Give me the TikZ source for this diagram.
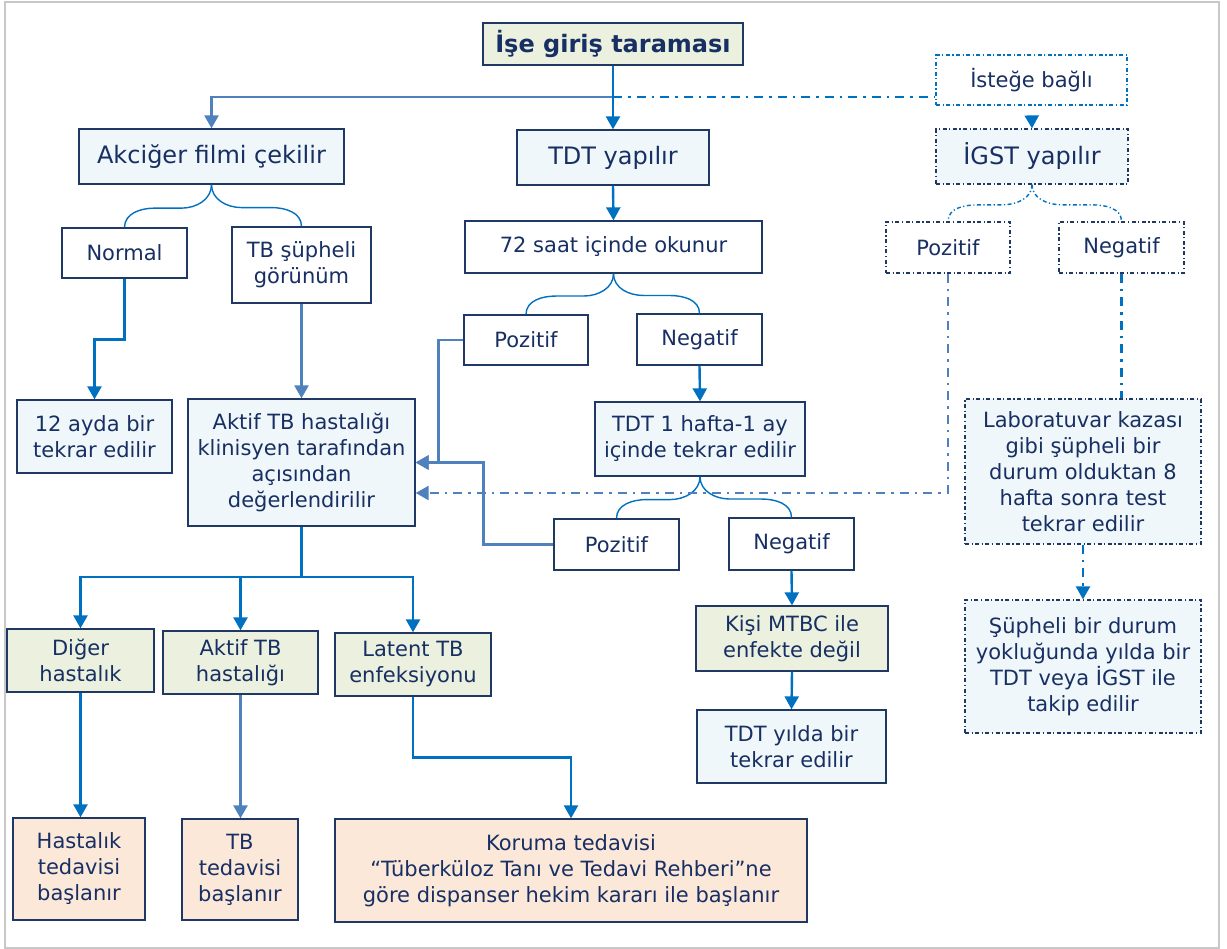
\documentclass[tikz,border=0pt]{standalone}
\usepackage{fontspec}
\setmainfont{DejaVu Sans}
\usetikzlibrary{arrows.meta,calc}

\definecolor{txt}{HTML}{172F63}
\definecolor{bordc}{HTML}{1F3864}
\definecolor{mainb}{HTML}{0070C0}
\definecolor{steel}{HTML}{4F81BD}
\definecolor{fillg}{HTML}{EBF1DE}
\definecolor{fillb}{HTML}{F0F7FA}
\definecolor{fillp}{HTML}{FCE8D9}
\definecolor{frameg}{HTML}{C8C8C8}

\tikzset{
  lbl/.style={font=\fontsize{21pt}{26pt}\selectfont, text=txt, align=center, inner sep=0pt},
  big/.style={font=\fontsize{24pt}{28pt}\selectfont},
  box/.style={lbl, draw=bordc, line width=1.3pt, fill=white},
  grn/.style={box, fill=fillg},
  blu/.style={box, fill=fillb},
  pch/.style={box, fill=fillp},
  dbox/.style={dash pattern=on 4pt off 2.5pt on 1.2pt off 2.5pt, line width=1.2pt},
  sz/.style 2 args={minimum width=#1pt, minimum height=#2pt},
  ln/.style={draw=mainb, line width=2.4pt},
  arr/.style={ln, -{Triangle[width=14pt,length=13pt]}},
  arrs/.style={arr, draw=steel},
  dd/.style={dash pattern=on 9pt off 6pt on 2.5pt off 6pt},
  brace/.style={draw=mainb, line width=1.4pt},
  dbrace/.style={brace, dash pattern=on 4pt off 2.5pt on 1.2pt off 2.5pt},
}

% curly split from a parent box to a child on its left / right
\newcommand\bracel[3]{%
  \draw[#1] let \p1=(#2.south), \p2=(#3.north) in
    (\p1) to[out=-90,in=0] ({\x1-30pt},{\y1-0.55*(\y1-\y2)})
    -- ({\x2+30pt},{\y1-0.55*(\y1-\y2)})
    to[out=180,in=90] (\p2);}
\newcommand\bracer[3]{%
  \draw[#1] let \p1=(#2.south), \p2=(#3.north) in
    (\p1) to[out=-90,in=180] ({\x1+30pt},{\y1-0.55*(\y1-\y2)})
    -- ({\x2-30pt},{\y1-0.55*(\y1-\y2)})
    to[out=0,in=90] (\p2);}

\begin{document}
\begin{tikzpicture}[x=1pt,y=-1pt]
\useasboundingbox (0,0) rectangle (1227,949);
\draw[frameg, line width=2pt] (5,2) rectangle (1219,948);

% top row
\node[grn, sz={260}{42}, font=\fontsize{24pt}{28pt}\selectfont\bfseries] (ise) at (613,44) {İşe giriş taraması};
\node[blu, big, sz={265}{55}] (akc) at (211.5,156.5) {Akciğer filmi çekilir};
\node[blu, big, sz={192}{55}] (tdt) at (613,157.5) {TDT yapılır};
\node[box, dbox, draw=mainb, sz={191}{50}] (ist) at (1031.5,80) {İsteğe bağlı};
\node[blu, big, dbox, sz={192}{55}] (igst) at (1032,156.5) {İGST yapılır};

% second level
\node[box, dbox, sz={124}{51}] (ipoz) at (948,247.5) {Pozitif};
\node[box, dbox, sz={125}{51}] (ineg) at (1121.5,247.5) {Negatif};
\node[box, sz={125}{50}] (normal) at (124.5,253) {Normal};
\node[box, sz={139}{76}] (tbs) at (301.5,265) {TB şüpheli\\görünüm};
\node[box, sz={297}{52}] (saat) at (613.5,247) {72 saat içinde okunur};
\node[box, sz={124}{50}] (poz1) at (526,340) {Pozitif};
\node[box, sz={125}{51}] (neg1) at (699.5,339.5) {Negatif};

% middle
\node[blu, sz={155}{73}] (ayda) at (94.5,436.5) {12 ayda bir\\tekrar edilir};
\node[blu, sz={227}{127}] (aktif) at (301.5,462.5) {Aktif TB hastalığı\\klinisyen tarafından\\açısından\\değerlendirilir};
\node[blu, sz={210}{74}] (tekrar) at (700,439) {TDT 1 hafta-1 ay\\içinde tekrar edilir};
\node[box, sz={125}{51}] (poz2) at (616.5,544.5) {Pozitif};
\node[box, sz={125}{52}] (neg2) at (791.5,544) {Negatif};
\node[blu, dbox, sz={236}{145}] (lab) at (1083,471.5) {Laboratuvar kazası\\gibi şüpheli bir\\durum olduktan 8\\hafta sonra test\\tekrar edilir};
\node[blu, dbox, sz={236}{133}] (sup) at (1083,666.5) {Şüpheli bir durum\\yokluğunda yılda bir\\TDT veya İGST ile\\takip edilir};
\node[grn, sz={192}{65}] (kisi) at (792,638.5) {Kişi MTBC ile\\enfekte değil};
\node[blu, sz={189}{73}] (yilda) at (791.5,746.5) {TDT yılda bir\\tekrar edilir};

% outcomes
\node[grn, sz={147}{63}] (diger) at (80.5,660.5) {Diğer\\hastalık};
\node[grn, sz={155}{63}] (aktb) at (240.5,662.5) {Aktif TB\\hastalığı};
\node[grn, sz={156}{63}] (latent) at (413,664.5) {Latent TB\\enfeksiyonu};
\node[pch, sz={132}{102}] (hast) at (79,869) {Hastalık\\tedavisi\\başlanır};
\node[pch, sz={116}{101}] (tbted) at (240,869.5) {TB\\tedavisi\\başlanır};
\node[pch, sz={472}{103}] (koruma) at (571,870.5) {Koruma tedavisi\\“Tüberküloz Tanı ve Tedavi Rehberi”ne\\göre dispanser hekim kararı ile başlanır};

% connectors from the top box
\coordinate (j1) at (ise.south |- 0,97);
\draw[arrs] (j1) -| (akc.north);
\draw[ln, dd] (j1) -- (j1 -| ist.west);
\draw[arr] (ise.south) -- (tdt.north);
\draw[arr, dash pattern=on 0pt off 40pt] (ist.south) -- (igst.north);
\draw[arr] (tdt.south) -- (saat.north);

% splits
\bracel{brace}{akc}{normal}
\bracer{brace}{akc}{tbs}
\bracel{brace}{saat}{poz1}
\bracer{brace}{saat}{neg1}
\bracel{brace}{tekrar}{poz2}
\bracer{brace}{tekrar}{neg2}
\bracel{dbrace}{igst}{ipoz}
\bracer{dbrace}{igst}{ineg}

% left branch
\draw[arr] (normal.south) -- ++(0,61) -| (ayda.north);
\draw[arrs] (tbs.south) -- (aktif.north);

% positives back to clinical evaluation
\draw[arrs] (poz1.west) -- ++(-25,0) |- (aktif.east);
\draw[arrs] (poz2.west) -- ++(-70,0) |- (aktif.east);
\draw[arrs, dd] (ipoz.south) |- ($(aktif.east)+(0,30.5)$);

% negatives
\draw[arr] (neg1.south) -- (tekrar.north);
\draw[arr] (neg2.south) -- (kisi.north);
\draw[arr] (kisi.south) -- (yilda.north);
\draw[ln, dd] (ineg.south) -- (ineg.south |- lab.north);
\draw[arr, dd] (lab.south) -- (sup.north);

% outcomes of the evaluation
\coordinate (j2) at (aktif.south |- 0,577);
\draw[ln] (aktif.south) -- (j2);
\draw[arr] (j2) -| (diger.north);
\draw[arr] (j2) -| (aktb.north);
\draw[arr] (j2) -| (latent.north);
\draw[arr] (diger.south) -- (diger.south |- hast.north);
\draw[arrs] (aktb.south) -- (aktb.south |- tbted.north);
\draw[arr] (latent.south) -- ++(0,61) -| (koruma.north);
\end{tikzpicture}
\end{document}
